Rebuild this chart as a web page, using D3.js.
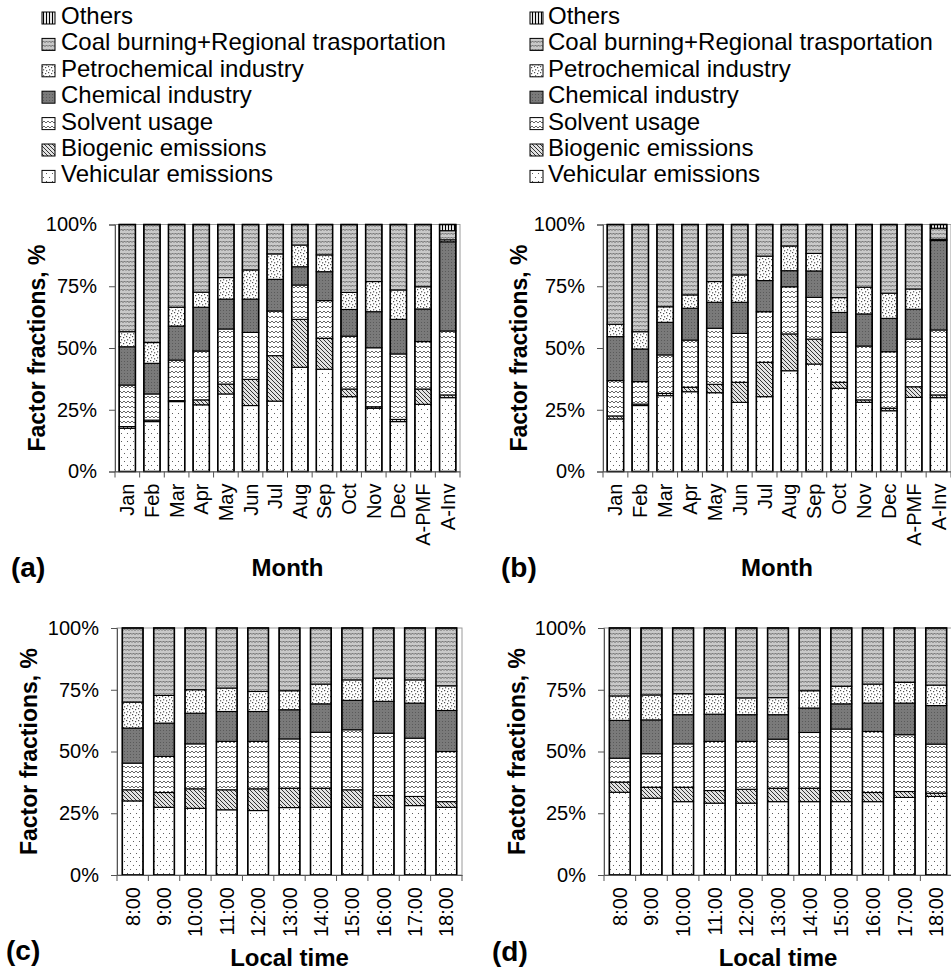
<!DOCTYPE html>
<html>
<head>
<meta charset="utf-8">
<script src="https://cdn.jsdelivr.net/npm/d3@7"></script>
<style>
  body { margin: 0; background: #fff; }
  svg { display: block; }
  text { font-family: "Liberation Sans", Arial, sans-serif; fill: #000; }
</style>
</head>
<body>
<svg id="chart" width="951" height="973"></svg>
<script>
// Source factors, in stacking order (bottom to top)
const seriesNames = [
  "Vehicular emissions",
  "Biogenic emissions",
  "Solvent usage",
  "Chemical industry",
  "Petrochemical industry",
  "Coal burning+Regional trasportation",
  "Others"
];

const months = ["Jan", "Feb", "Mar", "Apr", "May", "Jun", "Jul", "Aug", "Sep", "Oct", "Nov", "Dec", "A-PMF", "A-Inv"];
const hours = ["8:00", "9:00", "10:00", "11:00", "12:00", "13:00", "14:00", "15:00", "16:00", "17:00", "18:00"];
const yTicks = [0, 25, 50, 75, 100];

// (a) monthly factor fractions, % — one row per factor, one column per month
const fractionsA = [
  [17.5, 20.2, 28.3, 27.0, 31.4, 26.7, 28.5, 42.2, 41.4, 30.3, 25.6, 20.2, 27.2, 29.9],
  [0.7, 0.6, 0.4, 2.0, 4.0, 10.6, 18.4, 19.4, 12.5, 3.1, 0.6, 0.9, 6.2, 1.1],
  [16.8, 10.6, 16.4, 19.8, 22.3, 19.0, 18.1, 13.9, 15.3, 21.4, 23.9, 26.5, 19.2, 25.9],
  [15.5, 12.4, 13.8, 17.7, 12.1, 13.5, 12.8, 7.4, 11.7, 10.8, 14.6, 14.0, 13.2, 36.1],
  [6.1, 8.4, 7.6, 6.1, 8.7, 11.8, 10.3, 8.8, 6.8, 6.9, 12.2, 11.9, 9.0, 0.8],
  [43.4, 47.8, 33.5, 27.4, 21.5, 18.4, 11.9, 8.3, 12.3, 27.5, 23.1, 26.5, 25.2, 3.7],
  [0, 0, 0, 0, 0, 0, 0, 0, 0, 0, 0, 0, 0, 2.5]
];

// (b) monthly factor fractions, %
const fractionsB = [
  [21.3, 26.7, 30.7, 32.3, 31.9, 28.0, 30.3, 40.8, 43.5, 33.7, 28.0, 24.6, 30.0, 29.9],
  [1.2, 0.6, 0.9, 1.8, 3.4, 8.1, 13.9, 14.9, 10.1, 2.4, 1.0, 1.0, 4.3, 1.1],
  [14.3, 9.1, 15.6, 19.1, 22.7, 19.8, 20.5, 19.1, 16.9, 20.2, 21.8, 22.9, 19.3, 26.3],
  [17.8, 13.2, 13.2, 12.9, 10.5, 12.6, 12.6, 6.5, 10.7, 8.1, 13.0, 13.5, 12.1, 36.2],
  [5.0, 7.0, 6.3, 5.4, 8.4, 11.1, 9.9, 10.0, 7.1, 6.0, 10.8, 10.2, 8.2, 0.5],
  [40.4, 43.4, 33.3, 28.5, 23.1, 20.4, 12.8, 8.7, 11.7, 29.6, 25.4, 27.8, 26.1, 4.5],
  [0, 0, 0, 0, 0, 0, 0, 0, 0, 0, 0, 0, 0, 1.5]
];

// (c) diurnal factor fractions, %
const fractionsC = [
  [30.0, 27.4, 27.0, 26.4, 26.1, 27.3, 27.4, 27.4, 27.4, 28.1, 27.4],
  [4.5, 6.0, 7.9, 8.1, 8.8, 7.8, 7.7, 7.1, 4.8, 3.7, 2.3],
  [10.8, 14.6, 18.2, 19.6, 19.2, 20.0, 22.7, 24.3, 25.2, 23.6, 20.3],
  [14.2, 13.5, 12.4, 12.1, 12.1, 11.8, 11.5, 11.9, 12.9, 14.2, 16.6],
  [10.5, 11.2, 9.5, 9.5, 8.1, 7.7, 8.0, 8.3, 9.4, 9.4, 10.0],
  [30.0, 27.3, 25.0, 24.3, 25.7, 25.4, 22.7, 21.0, 20.3, 21.0, 23.4],
  [0, 0, 0, 0, 0, 0, 0, 0, 0, 0, 0]
];

// (d) diurnal factor fractions, %
const fractionsD = [
  [33.5, 31.1, 29.7, 29.1, 29.1, 29.7, 29.7, 29.7, 29.7, 31.4, 31.8],
  [4.1, 4.4, 5.8, 5.1, 5.6, 5.4, 5.4, 4.5, 3.7, 2.4, 1.3],
  [9.7, 13.6, 17.6, 19.9, 19.4, 19.9, 22.6, 24.9, 24.7, 23.0, 19.9],
  [15.3, 13.7, 11.8, 11.0, 10.8, 9.9, 9.9, 10.2, 11.5, 12.8, 15.6],
  [9.9, 10.1, 8.5, 8.1, 6.8, 6.9, 7.0, 7.1, 7.7, 8.4, 8.3],
  [27.5, 27.1, 26.6, 26.8, 28.3, 28.2, 25.4, 23.6, 22.7, 22.0, 23.1],
  [0, 0, 0, 0, 0, 0, 0, 0, 0, 0, 0]
];

const svg = d3.select("#chart");
const defs = svg.append("defs");

// Monochrome fill patterns, one per factor
function makePattern(id, w, h, bg, draw) {
  const p = defs.append("pattern")
    .attr("id", id)
    .attr("patternUnits", "userSpaceOnUse")
    .attr("width", w)
    .attr("height", h);
  p.append("rect").attr("width", w).attr("height", h).attr("fill", bg);
  draw(p);
}
function dot(p, x, y, s, c) {
  p.append("rect").attr("x", x).attr("y", y).attr("width", s).attr("height", s).attr("fill", c);
}

makePattern("pat0", 6, 8, "#ffffff", p => { dot(p, 1, 1, 1, "#5e5e5e"); dot(p, 4, 5, 1, "#5e5e5e"); });
makePattern("pat1", 4, 4, "#e2e2e2", p => {
  p.append("path").attr("d", "M-1,-1 L5,5 M-1,3 L1,5 M3,-1 L5,1")
    .attr("stroke", "#333").attr("stroke-width", 1).attr("fill", "none");
});
makePattern("pat2", 4, 5, "#ffffff", p => {
  p.append("path").attr("d", "M0,1 L2,3 L4,1")
    .attr("stroke", "#555").attr("stroke-width", 0.9).attr("fill", "none");
});
makePattern("pat3", 3, 3, "#7a7a7a", p => { dot(p, 1, 1, 1, "#5a5a5a"); });
makePattern("pat4", 6, 6, "#ffffff", p => {
  dot(p, 0, 0, 1.2, "#505050"); dot(p, 3, 1, 1.2, "#505050"); dot(p, 1, 3.2, 1.2, "#505050"); dot(p, 4, 4.2, 1.2, "#505050");
});
makePattern("pat5", 6, 4, "#c9c9c9", p => {
  p.append("path").attr("d", "M0,2.6 L1.5,1 L3,2.6 L4.5,1 L6,2.6")
    .attr("stroke", "#5c5c5c").attr("stroke-width", 0.9).attr("fill", "none");
});
makePattern("pat6", 3, 3, "#ffffff", p => {
  p.append("path").attr("d", "M1.5,0 V3").attr("stroke", "#000").attr("stroke-width", 1.2);
});

const fillFor = i => `url(#pat${i})`;

// Legends (top rows, listed from the top of the stack downward)
function drawLegend(boxX, textX) {
  const g = svg.append("g");
  const order = seriesNames.map((n, i) => i).reverse();
  order.forEach((si, row) => {
    const base = 24 + row * 26.4;
    g.append("rect")
      .attr("x", boxX).attr("y", base - 12)
      .attr("width", 13).attr("height", 12)
      .attr("fill", fillFor(si))
      .attr("stroke", "#000").attr("stroke-width", 1);
    g.append("text")
      .attr("x", textX).attr("y", base)
      .attr("font-size", 24)
      .text(seriesNames[si]);
  });
}
drawLegend(42, 61);
drawLegend(530, 548);

function drawPanel(cfg) {
  const { categories, fractions, left, right, top, bottom } = cfg;
  const g = svg.append("g");

  const x = d3.scaleBand().domain(categories).range([left, right])
    .paddingInner(0.34).paddingOuter(0.17);
  const y = d3.scaleLinear().domain([0, 100]).range([bottom, top]);

  // Plot-area frame
  g.append("rect")
    .attr("x", left).attr("y", top)
    .attr("width", right - left).attr("height", bottom - top)
    .attr("fill", "none").attr("stroke", "#9a9a9a").attr("stroke-width", 1);

  // Stack the factors
  const rows = categories.map((c, ci) => {
    const r = { cat: c };
    seriesNames.forEach((n, si) => { r[n] = fractions[si][ci]; });
    return r;
  });
  const stacked = d3.stack().keys(seriesNames)(rows);

  stacked.forEach((layer, si) => {
    g.append("g").selectAll("rect")
      .data(layer.filter(d => d[1] - d[0] > 0))
      .join("rect")
      .attr("x", d => x(d.data.cat))
      .attr("y", d => y(d[1]))
      .attr("width", x.bandwidth())
      .attr("height", d => y(d[0]) - y(d[1]))
      .attr("fill", fillFor(si))
      .attr("stroke", "#000")
      .attr("stroke-width", 1.1);
  });

  // Bar outlines
  g.append("g").selectAll("rect")
    .data(rows)
    .join("rect")
    .attr("x", d => x(d.cat))
    .attr("y", y(100))
    .attr("width", x.bandwidth())
    .attr("height", y(0) - y(100))
    .attr("fill", "none")
    .attr("stroke", "#000")
    .attr("stroke-width", 1.5);

  // Y axis
  const yAxis = g.append("g")
    .attr("transform", `translate(${left},0)`)
    .call(d3.axisLeft(y).tickValues(yTicks).tickFormat(d => d + "%").tickSize(6).tickPadding(12));
  yAxis.select(".domain").attr("stroke", "#555");
  yAxis.selectAll(".tick line").attr("stroke", "#555");
  yAxis.selectAll(".tick text")
    .attr("font-size", 20)
    .attr("font-family", '"Liberation Sans", Arial, sans-serif')
    .attr("fill", "#000");

  // X axis: category labels, with ticks on category boundaries
  const xAxis = g.append("g")
    .attr("transform", `translate(0,${bottom})`)
    .call(d3.axisBottom(x).tickSize(0).tickSizeOuter(0));
  xAxis.select(".domain").attr("stroke", "#555");
  xAxis.selectAll(".tick text")
    .attr("font-size", 20)
    .attr("font-family", '"Liberation Sans", Arial, sans-serif')
    .attr("fill", "#000")
    .attr("transform", "rotate(-90)")
    .attr("text-anchor", "end")
    .attr("x", -12)
    .attr("y", 0)
    .attr("dy", "0.35em");
  const bounds = d3.range(categories.length + 1).map(i => left + i * x.step());
  g.append("g").selectAll("line")
    .data(bounds)
    .join("line")
    .attr("x1", d => d).attr("x2", d => d)
    .attr("y1", bottom).attr("y2", bottom + 6)
    .attr("stroke", "#555");

  // Titles
  g.append("text")
    .attr("transform", `translate(${cfg.yTitleX},${(top + bottom) / 2}) rotate(-90)`)
    .attr("text-anchor", "middle")
    .attr("font-size", 23)
    .attr("font-weight", "bold")
    .text("Factor fractions, %");
  g.append("text")
    .attr("x", (left + right) / 2).attr("y", cfg.xTitleY)
    .attr("text-anchor", "middle")
    .attr("font-size", 24)
    .attr("font-weight", "bold")
    .text(cfg.xTitle);
  g.append("text")
    .attr("x", cfg.tagX).attr("y", cfg.tagY)
    .attr("font-size", 28)
    .attr("font-weight", "bold")
    .text(cfg.tag);
}

drawPanel({ categories: months, fractions: fractionsA, left: 115, right: 460, top: 224.5, bottom: 471.5,
  yTitleX: 45, xTitle: "Month", xTitleY: 576, tag: "(a)", tagX: 11, tagY: 577 });
drawPanel({ categories: months, fractions: fractionsB, left: 603, right: 951, top: 224.5, bottom: 471.5,
  yTitleX: 527, xTitle: "Month", xTitleY: 576, tag: "(b)", tagX: 501, tagY: 577 });
drawPanel({ categories: hours, fractions: fractionsC, left: 117, right: 462, top: 628, bottom: 875,
  yTitleX: 37, xTitle: "Local time", xTitleY: 966, tag: "(c)", tagX: 6, tagY: 960 });
drawPanel({ categories: hours, fractions: fractionsD, left: 604, right: 952, top: 628, bottom: 875,
  yTitleX: 525, xTitle: "Local time", xTitleY: 966, tag: "(d)", tagX: 492, tagY: 961 });
</script>
</body>
</html>
